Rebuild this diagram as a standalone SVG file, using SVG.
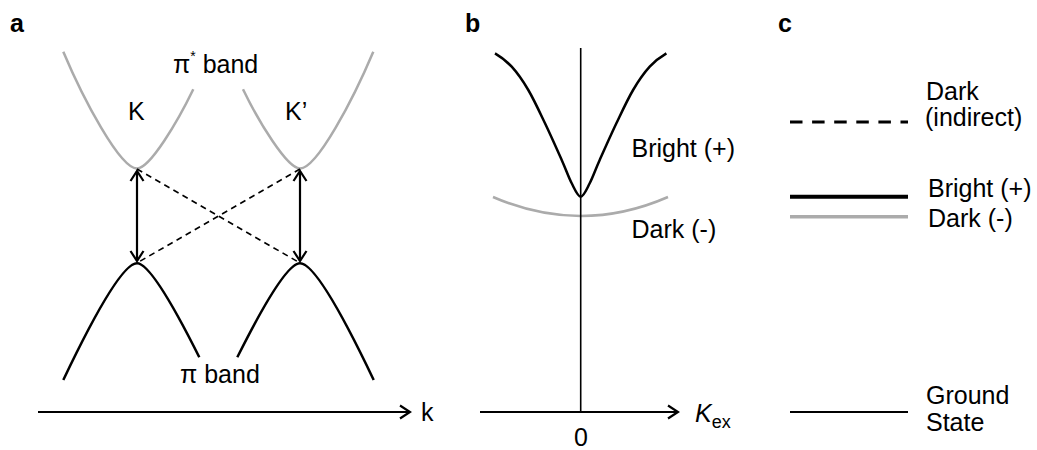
<svg xmlns="http://www.w3.org/2000/svg" width="1037" height="450" viewBox="0 0 1037 450">
<style>
text{font-family:"Liberation Sans",Arial,sans-serif;font-size:25px;fill:#000}
.lbl{font-weight:bold}
.gray{fill:none;stroke:#ababab;stroke-width:2.5}
.blk{fill:none;stroke:#000;stroke-width:2.5}
.axis{fill:none;stroke:#000;stroke-width:2;marker-end:url(#arr)}
.dash{fill:none;stroke:#000;stroke-width:1.6;stroke-dasharray:6 4.5}
.tr{fill:none;stroke:#000;stroke-width:2.2;marker-start:url(#arr);marker-end:url(#arr)}
</style>
<defs>
<marker id="arr" viewBox="-13 -8 15 16" refX="0" refY="0" markerWidth="15" markerHeight="16" markerUnits="userSpaceOnUse" orient="auto-start-reverse">
<path d="M-10,-6.5 L0,0 L-10,6.5" fill="none" stroke="#000" stroke-width="2.2"/>
</marker>
</defs>
<rect width="1037" height="450" fill="#fff"/>

<g id="panel-a">
<text class="lbl" x="10" y="32">a</text>
<g id="pistar-K"><path class="gray" d="M63.3,51.7 C83.3,99.1 120,168.5 137,168.5 C150,168.5 178,121 193.3,89.3"/></g>
<g id="pistar-Kp"><path class="gray" d="M243,89.3 C258.3,121 287,168.5 300,168.5 C317,168.5 353.3,99.1 373.3,51.7"/></g>
<g id="pi-K"><path class="blk" d="M63.3,380 C93.3,317 123,263.3 137,263.3 C149,263.3 174.3,307.3 199.3,357.3"/></g>
<g id="pi-Kp"><path class="blk" d="M237.3,357.3 C262.3,307.3 288,263.3 300,263.3 C314,263.3 343.7,317 373.7,380"/></g>
<text x="173" y="73">π<tspan font-size="14" dy="-12">*</tspan><tspan dy="12"> band</tspan></text>
<text x="128" y="120">K</text>
<text x="285" y="120">K’</text>
<text x="180" y="383">π band</text>
<text x="421" y="421">k</text>
</g>

<g id="panel-b">
<text class="lbl" x="465" y="32">b</text>
<g id="bright-curve"><path class="blk" stroke-width="3" d="M495,53.3 C500.5,56.5 506.15,60.58 511.7,66.7 C517.25,72.82 522.75,80.57 528.3,90 C533.85,99.43 539.43,111.63 545,123.3 C550.57,134.97 557.25,150 561.7,160 C566.15,170 568.53,177.18 571.7,183.3 C574.87,189.42 577.7,196.7 580.7,196.7 C583.7,196.7 586.53,189.42 589.7,183.3 C592.87,177.18 595.25,170 599.7,160 C604.15,150 610.83,134.97 616.4,123.3 C621.97,111.63 627.55,99.43 633.1,90 C638.65,80.57 644.15,72.82 649.7,66.7 C655.25,60.58 660.9,56.5 666.4,53.3"/></g>
<g id="dark-curve"><path class="gray" stroke-width="3" d="M493,197 Q580.7,235 668,197"/></g>
<text x="631.5" y="157">Bright (+)</text>
<text x="631.5" y="238">Dark (-)</text>
<text x="581" y="446" text-anchor="middle">0</text>
<text x="695" y="421.5" font-style="italic">K<tspan font-style="normal" font-size="18" dy="6">ex</tspan></text>
</g>

<g id="panel-c">
<text class="lbl" x="778" y="32">c</text>
<g id="legend-dark-indirect"><line x1="790" y1="122" x2="908" y2="122" stroke="#000" stroke-width="3" stroke-dasharray="12.5 9.6"/><text x="926" y="100">Dark</text><text x="925" y="126">(indirect)</text></g>
<g id="legend-bright"><line x1="790" y1="196.7" x2="908" y2="196.7" stroke="#000" stroke-width="4"/><text x="928" y="196.7">Bright (+)</text></g>
<g id="legend-dark"><line x1="790" y1="216.7" x2="908" y2="216.7" stroke="#ababab" stroke-width="3.5"/><text x="928" y="226.7">Dark (-)</text></g>
<g id="legend-ground"><line x1="790" y1="412" x2="908" y2="412" stroke="#000" stroke-width="1.8"/><text x="926" y="404">Ground</text><text x="926" y="431">State</text></g>
</g>

<g id="connectors">
<line class="axis" x1="38" y1="412" x2="410" y2="412"/>
<line class="axis" x1="480" y1="412" x2="678" y2="412"/>
<line x1="580.7" y1="48" x2="580.7" y2="412" stroke="#000" stroke-width="1.6"/>
<line class="tr" x1="137" y1="171" x2="137" y2="261"/>
<line class="tr" x1="300" y1="171" x2="300" y2="261"/>
<line class="dash" x1="137" y1="169" x2="300" y2="263"/>
<line class="dash" x1="300" y1="169" x2="137" y2="263"/>
</g>
</svg>
